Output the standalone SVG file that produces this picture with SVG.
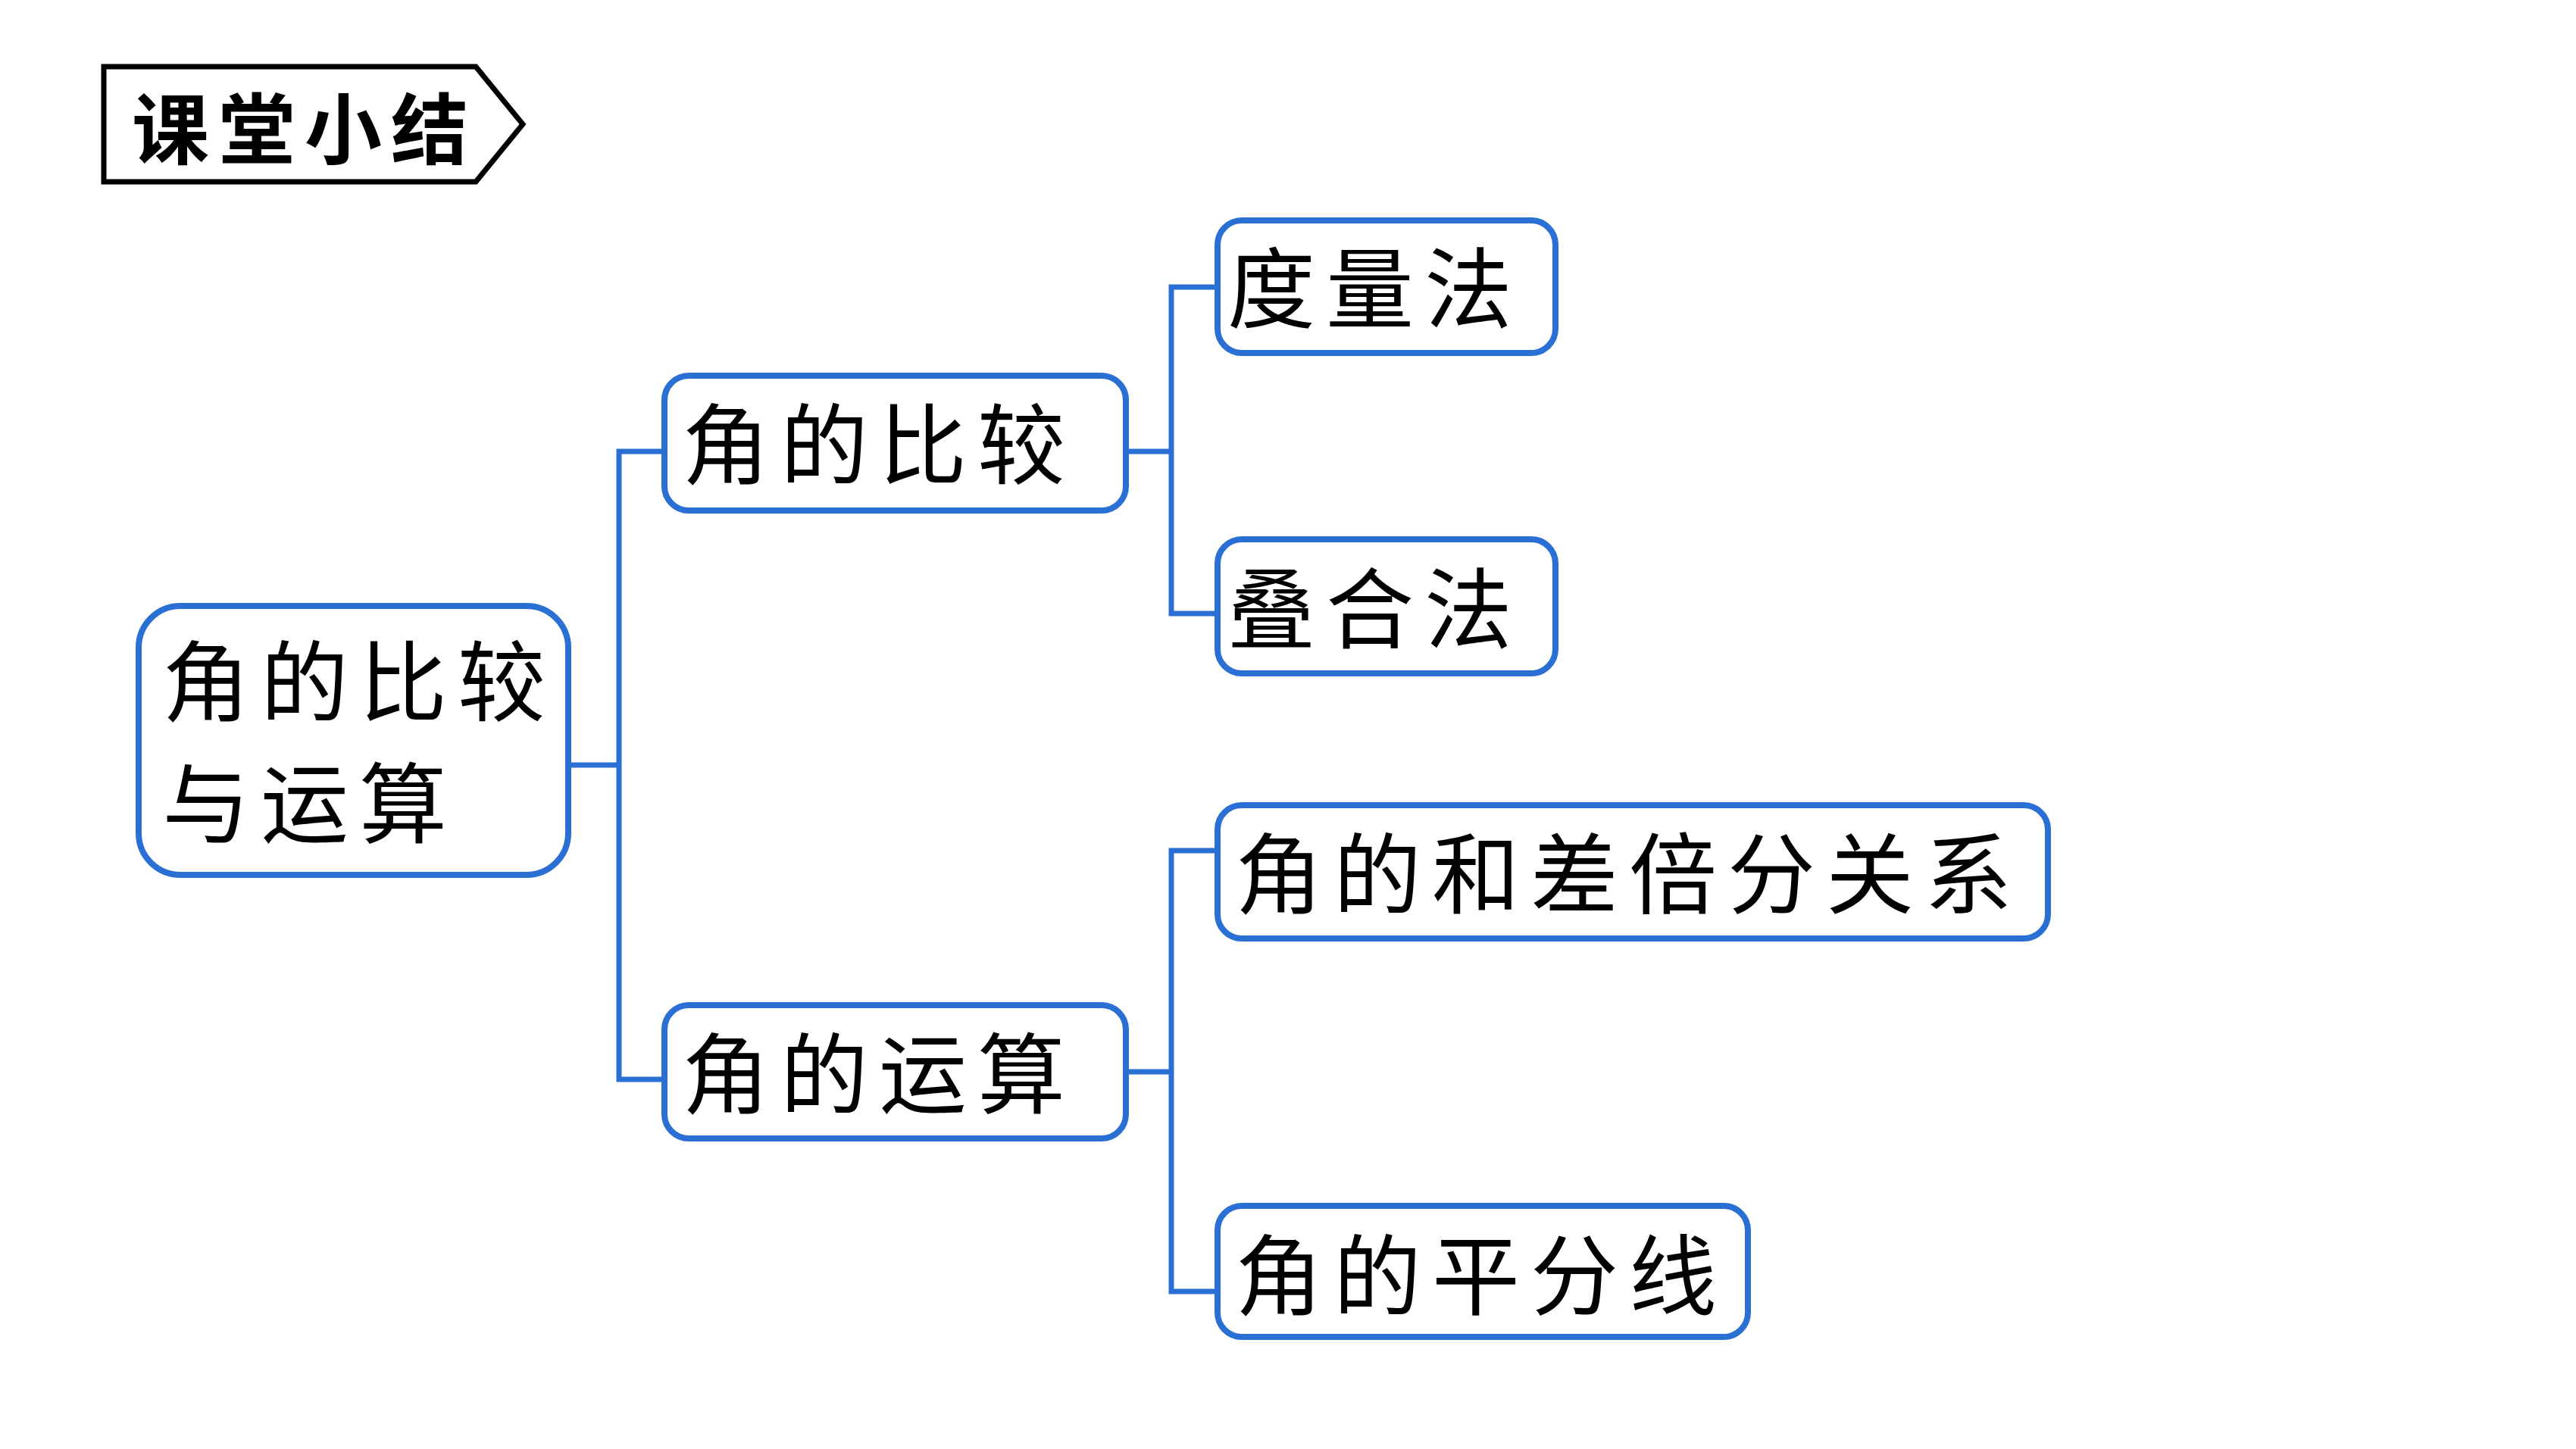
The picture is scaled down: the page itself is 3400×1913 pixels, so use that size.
<svg xmlns="http://www.w3.org/2000/svg" width="3400" height="1913" viewBox="0 0 3400 1913">
<style>
.node{fill:#ffffff;stroke:#2a6fd4;stroke-width:8}
.conn{fill:none;stroke:#2a6fd4;stroke-width:7;stroke-linejoin:miter}
.t{font-family:"Noto Sans CJK SC","Noto Sans CJK TC",sans-serif;font-size:116px;fill:#000000;letter-spacing:14px;dominant-baseline:central}
.title{font-family:"Noto Sans CJK SC","Noto Sans CJK TC",sans-serif;font-size:102px;font-weight:bold;fill:#000000;letter-spacing:12px;dominant-baseline:central}
</style>
<rect x="0" y="0" width="3400" height="1913" fill="#ffffff"/>
<g id="title">
<polygon points="137,88 628,88 690,164 628,240 137,240" fill="#ffffff" stroke="#000000" stroke-width="7"/>
<text class="title" x="174" y="164">课堂小结</text>
</g>
<g id="connectors">
<path class="conn" d="M754,1010 H817"/>
<path class="conn" d="M873,596 H817 V1425 H873"/>
<path class="conn" d="M1490,596 H1546"/>
<path class="conn" d="M1603,379 H1546 V810 H1603"/>
<path class="conn" d="M1490,1415 H1546"/>
<path class="conn" d="M1603,1123 H1546 V1705 H1603"/>
</g>
<g id="root">
<rect class="node" x="183" y="800" width="567" height="355" rx="55"/>
<text class="t" x="214" y="892">角的比较</text>
<text class="t" x="214" y="1053">与运算</text>
</g>
<g id="compare">
<rect class="node" x="877" y="496" width="609" height="178" rx="32"/>
<text class="t" x="900" y="579">角的比较</text>
</g>
<g id="operate">
<rect class="node" x="877" y="1327" width="609" height="176" rx="32"/>
<text class="t" x="900" y="1410">角的运算</text>
</g>
<g id="measure">
<rect class="node" x="1607" y="291" width="446" height="175" rx="32"/>
<text class="t" x="1620" y="373">度量法</text>
</g>
<g id="overlap">
<rect class="node" x="1607" y="712" width="446" height="177" rx="32"/>
<text class="t" x="1620" y="796">叠合法</text>
</g>
<g id="relation">
<rect class="node" x="1607" y="1063" width="1096" height="176" rx="32"/>
<text class="t" x="1630" y="1146">角的和差倍分关系</text>
</g>
<g id="bisector">
<rect class="node" x="1607" y="1592" width="700" height="173" rx="32"/>
<text class="t" x="1630" y="1676">角的平分线</text>
</g>
</svg>
